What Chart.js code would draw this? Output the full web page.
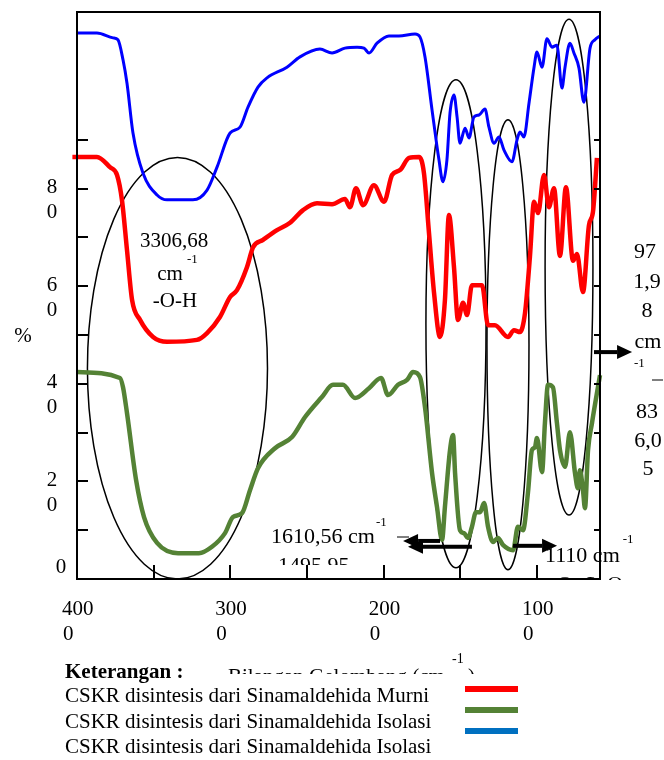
<!DOCTYPE html>
<html>
<head>
<meta charset="utf-8">
<script src="https://cdn.jsdelivr.net/npm/chart.js@4.4.1/dist/chart.umd.min.js"></script>
<style>
html, body { margin: 0; padding: 0; background: #fff; }
canvas { display: block; }
</style>
</head>
<body>
<canvas id="ftirChart" width="664" height="760"></canvas>
<script>
'use strict';

// wavenumber (cm-1) and %T
const blueX = [4000, 3870, 3765, 3733, 3700, 3674, 3635, 3570, 3478, 3413, 3244, 3152, 3087, 3002, 2937, 2885, 2820, 2761, 2631, 2546, 2416, 2337, 2253, 2174, 2129, 2096, 2044, 1966, 1901, 1796, 1764, 1731, 1685, 1640, 1614, 1588, 1568, 1542, 1522, 1503, 1470, 1444, 1412, 1379, 1340, 1314, 1281, 1249, 1216, 1164, 1131, 1112, 1086, 1053, 1020, 1001, 968, 936, 903, 871, 838, 818, 786, 760, 727, 695, 655, 623, 590];
const blueY = [111.9, 111.9, 110.9, 110.5, 106.4, 101.6, 91.4, 83.2, 78.7, 77.7, 77.7, 79.7, 84.4, 91.4, 92.6, 96.7, 100.8, 102.7, 104.9, 107.0, 108.6, 107.8, 108.8, 109.0, 108.8, 107.8, 109.8, 111.3, 111.3, 111.7, 111.1, 107.0, 96.1, 85.9, 81.4, 85.9, 95.5, 99.2, 94.7, 89.3, 92.4, 90.4, 94.7, 95.1, 96.3, 92.6, 89.3, 90.6, 87.9, 85.5, 90.0, 91.6, 90.6, 97.5, 104.9, 108.0, 104.9, 110.7, 109.0, 109.4, 100.6, 104.9, 109.8, 107.8, 104.7, 97.7, 108.8, 110.5, 111.3];

const redX = [4030, 3870, 3785, 3739, 3707, 3674, 3641, 3589, 3504, 3413, 3218, 3152, 3068, 3002, 2957, 2892, 2852, 2787, 2696, 2611, 2526, 2435, 2337, 2253, 2220, 2181, 2135, 2064, 1998, 1946, 1894, 1835, 1770, 1738, 1705, 1672, 1633, 1601, 1575, 1542, 1516, 1483, 1457, 1425, 1359, 1320, 1275, 1190, 1151, 1112, 1079, 1047, 1020, 994, 955, 923, 890, 851, 812, 766, 740, 701, 662, 636, 610];
const redY = [86.5, 86.5, 84.4, 82.8, 77.7, 67.4, 57.2, 53.1, 49.6, 48.6, 49.0, 50.4, 53.7, 57.8, 59.2, 63.9, 68.0, 69.5, 71.5, 73.0, 75.6, 77.0, 76.8, 77.9, 76.2, 80.1, 76.6, 80.7, 77.3, 82.8, 83.8, 86.3, 86.5, 83.2, 70.9, 58.6, 49.6, 57.2, 74.6, 63.9, 53.1, 56.6, 54.1, 60.2, 60.2, 52.0, 52.0, 49.6, 51.0, 50.6, 54.5, 66.0, 77.3, 75.0, 82.8, 76.2, 80.1, 66.2, 80.3, 65.2, 66.6, 58.8, 72.5, 75.2, 86.3];

const greenX = [4000, 3720, 3700, 3674, 3615, 3563, 3478, 3341, 3205, 3120, 3035, 2983, 2924, 2872, 2820, 2709, 2598, 2513, 2403, 2331, 2266, 2187, 2096, 2018, 1972, 1907, 1848, 1809, 1764, 1731, 1685, 1653, 1620, 1601, 1568, 1548, 1535, 1503, 1477, 1451, 1425, 1399, 1372, 1346, 1320, 1288, 1255, 1223, 1157, 1125, 1092, 1060, 1034, 1014, 1001, 968, 949, 929, 897, 871, 851, 818, 786, 753, 734, 721, 701, 688, 668, 642, 610, 590];
const greenY = [42.4, 41.2, 39.3, 34.0, 20.3, 12.7, 7.4, 5.3, 5.3, 6.6, 9.4, 12.7, 13.5, 18.2, 22.7, 26.8, 29.1, 33.2, 37.3, 39.8, 39.8, 37.1, 39.1, 41.2, 37.7, 39.8, 40.8, 42.4, 41.4, 35.2, 21.7, 14.8, 8.0, 14.8, 26.4, 29.5, 21.7, 10.0, 9.4, 8.4, 10.7, 13.7, 13.7, 15.6, 10.7, 7.6, 8.4, 7.0, 5.9, 10.7, 10.0, 17.6, 26.4, 27.0, 28.9, 21.9, 32.0, 39.8, 39.3, 32.0, 26.4, 23.0, 30.1, 21.7, 18.6, 22.3, 18.2, 14.5, 26.4, 32.0, 38.1, 41.8];

// axis ticks and labels (labels wrap like in the original figure)
const xTickMarks = [3500, 3000, 2500, 2000, 1500, 1000];
const xTickValues = [4000, 3000, 2000, 1000];
const xTickLabels = [['400', '0'], ['300', '0'], ['200', '0'], ['100', '0']];
const yTickMarks = [10, 20, 30, 40, 50, 60, 70, 80, 90];
const yTickValues = [0, 20, 40, 60, 80];
const yTickLabels = [['0'], ['2', '0'], ['4', '0'], ['6', '0'], ['8', '0']];

const legendNames = [
    'CSKR disintesis dari Sinamaldehida Murni',
    'CSKR disintesis dari Sinamaldehida Isolasi',
    'CSKR disintesis dari Sinamaldehida Isolasi'
];
const legendColors = ['#ff0000', '#548235', '#0070c0'];

// band markers, in wavenumber / %T
const bandEllipses = [
    { wn: 3345, t: 43.2, dwn: 587, dt: 43.2 },
    { wn: 1529, t: 52.3, dwn: 196, dt: 50.0 },
    { wn: 1190, t: 48.0, dwn: 137, dt: 46.1 },
    { wn: 792, t: 63.9, dwn: 156, dt: 50.8 }
];
const bandArrows = [
    { from: [1633, 7.8], to: [1874, 7.8] },
    { from: [1425, 6.6], to: [1842, 6.6] },
    { from: [1157, 6.8], to: [870, 6.8] },
    { from: [629, 46.5], to: [381, 46.5] }
];

const SERIF = '"Liberation Serif", "Times New Roman", serif';

function toPoints(xs, ys) {
    return xs.map((x, i) => ({ x: x, y: ys[i] }));
}

function text(ctx, str, x, y, size, align = 'left', bold = false) {
    ctx.font = `${bold ? 'bold ' : ''}${size}px ${SERIF}`;
    ctx.textAlign = align;
    ctx.fillText(str, x, y);
    return ctx.measureText(str).width;
}

function drawArrow(ctx, x1, y1, x2, y2) {
    const ang = Math.atan2(y2 - y1, x2 - x1);
    const head = 15, half = 7;
    const bx = x2 - head * Math.cos(ang), by = y2 - head * Math.sin(ang);
    ctx.lineWidth = 4;
    ctx.beginPath();
    ctx.moveTo(x1, y1);
    ctx.lineTo(bx, by);
    ctx.stroke();
    ctx.beginPath();
    ctx.moveTo(x2, y2);
    ctx.lineTo(bx + half * Math.sin(ang), by - half * Math.cos(ang));
    ctx.lineTo(bx - half * Math.sin(ang), by + half * Math.cos(ang));
    ctx.closePath();
    ctx.fill();
}

const ellipsePlugin = {
    id: 'bandEllipses',
    beforeDatasetsDraw(chart) {
        const { ctx, scales: { x, y } } = chart;
        ctx.save();
        ctx.strokeStyle = '#000';
        ctx.lineWidth = 1.5;
        bandEllipses.forEach(e => {
            const cx = x.getPixelForValue(e.wn), cy = y.getPixelForValue(e.t);
            const rx = Math.abs(x.getPixelForValue(e.wn - e.dwn) - cx);
            const ry = Math.abs(y.getPixelForValue(e.t + e.dt) - cy);
            ctx.beginPath();
            ctx.ellipse(cx, cy, rx, ry, 0, 0, Math.PI * 2);
            ctx.stroke();
        });
        ctx.restore();
    }
};

const framePlugin = {
    id: 'frameAndNotes',
    afterDraw(chart) {
        const { ctx, chartArea: a, scales: { x, y } } = chart;
        ctx.save();
        ctx.strokeStyle = '#000';
        ctx.fillStyle = '#000';
        ctx.textBaseline = 'alphabetic';

        // frame
        ctx.lineWidth = 2;
        ctx.strokeRect(a.left, a.top, a.right - a.left, a.bottom - a.top);

        // ticks
        ctx.lineWidth = 2;
        yTickMarks.forEach(v => {
            const py = Math.round(y.getPixelForValue(v));
            ctx.beginPath();
            ctx.moveTo(a.left, py); ctx.lineTo(a.left + 11, py);
            ctx.moveTo(a.right, py); ctx.lineTo(a.right - 6, py);
            ctx.stroke();
        });
        xTickMarks.forEach(v => {
            const px = Math.round(x.getPixelForValue(v));
            ctx.beginPath();
            ctx.moveTo(px, a.bottom); ctx.lineTo(px, a.bottom - 14);
            ctx.stroke();
        });

        // tick labels
        ctx.font = `21px ${SERIF}`;
        ctx.textBaseline = 'middle';
        yTickValues.forEach((v, i) => {
            const py = y.getPixelForValue(v);
            const lines = yTickLabels[i];
            ctx.textAlign = 'center';
            if (lines.length === 1) {
                ctx.fillText(lines[0], 61, py - 12);
            } else {
                ctx.fillText(lines[0], 52, py - 1);
                ctx.fillText(lines[1], 52, py + 24);
            }
        });
        xTickValues.forEach((v, i) => {
            const px = x.getPixelForValue(v);
            const lines = xTickLabels[i];
            ctx.textAlign = 'left';
            ctx.fillText(lines[0], px - 15, 609);
            ctx.fillText(lines[1], px - 14, 634);
        });
        ctx.textBaseline = 'alphabetic';

        // y axis title
        text(ctx, '%', 23, 342, 21, 'center');

        // O-H band
        text(ctx, '3306,68', 174, 247, 21, 'center');
        text(ctx, 'cm', 170, 280, 21, 'center');
        text(ctx, '-1', 187, 263, 13);
        text(ctx, '-O-H', 175, 307, 21, 'center');

        // C=C aromatic
        let w = text(ctx, '1610,56 cm', 271, 543, 22);
        text(ctx, '-1', 271 + w + 1, 526, 13);
        ctx.lineWidth = 1;
        ctx.beginPath(); ctx.moveTo(397, 537); ctx.lineTo(409, 537); ctx.stroke();
        ctx.save();
        ctx.beginPath(); ctx.rect(0, 0, 664, 565); ctx.clip();
        text(ctx, '1495,95', 278, 572, 22);
        ctx.restore();

        // S=O band
        w = text(ctx, '1110 cm', 545, 562, 22);
        text(ctx, '-1', 545 + w + 3, 543, 13);
        ctx.save();
        ctx.beginPath(); ctx.rect(0, 0, 664, 580); ctx.clip();
        text(ctx, 'O\u2013S\u2013O', 557, 591, 22);
        ctx.restore();

        // right hand band note
        text(ctx, '97', 645, 258, 22, 'center');
        text(ctx, '1,9', 647, 288, 22, 'center');
        text(ctx, '8', 647, 317, 22, 'center');
        text(ctx, 'cm', 648, 348, 22, 'center');
        text(ctx, '-1', 634, 367, 13);
        ctx.lineWidth = 1;
        ctx.beginPath(); ctx.moveTo(652, 380); ctx.lineTo(663, 380); ctx.stroke();
        text(ctx, '83', 647, 418, 22, 'center');
        text(ctx, '6,0', 648, 447, 22, 'center');
        text(ctx, '5', 648, 475, 22, 'center');

        // arrows
        bandArrows.forEach(ar => {
            drawArrow(ctx,
                x.getPixelForValue(ar.from[0]), y.getPixelForValue(ar.from[1]),
                x.getPixelForValue(ar.to[0]), y.getPixelForValue(ar.to[1]));
        });

        // x axis title, mostly hidden under the legend box
        ctx.save();
        ctx.beginPath(); ctx.rect(0, 0, 664, 674); ctx.clip();
        w = text(ctx, 'Bilangan Gelombang (cm', 228, 683, 21);
        text(ctx, ')', 468, 683, 21);
        ctx.restore();
        text(ctx, '-1', 452, 663, 14);

        // legend
        text(ctx, 'Keterangan :', 65, 678, 21, 'left', true);
        legendNames.forEach((name, i) => {
            text(ctx, name, 65, 702 + i * 25.5, 21);
            ctx.fillStyle = legendColors[i];
            ctx.fillRect(465, 686 + i * 21, 53, 6);
            ctx.fillStyle = '#000';
        });

        ctx.restore();
    }
};

new Chart(document.getElementById('ftirChart'), {
    type: 'line',
    data: {
        datasets: [
            { label: 'blue', data: toPoints(blueX, blueY), borderColor: '#0000ff', borderWidth: 3 },
            { label: 'red', data: toPoints(redX, redY), borderColor: '#ff0000', borderWidth: 4.5 },
            { label: 'green', data: toPoints(greenX, greenY), borderColor: '#548235', borderWidth: 4.5 }
        ]
    },
    options: {
        responsive: false,
        animation: false,
        devicePixelRatio: 1,
        layout: { padding: { left: 77, right: 64, top: 12, bottom: 181 } },
        elements: {
            point: { radius: 0 },
            line: { cubicInterpolationMode: 'monotone', fill: false }
        },
        datasets: { line: { clip: false } },
        scales: {
            x: { type: 'linear', reverse: true, min: 590, max: 4000, display: false },
            y: { type: 'linear', min: 0, max: 116.2, display: false }
        },
        plugins: {
            legend: { display: false },
            tooltip: { enabled: false }
        }
    },
    plugins: [ellipsePlugin, framePlugin]
});
</script>
</body>
</html>
